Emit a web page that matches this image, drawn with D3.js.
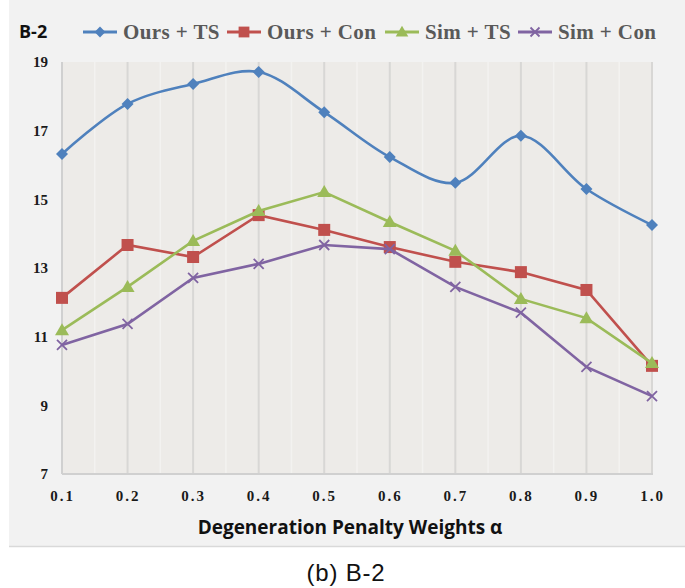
<!DOCTYPE html>
<html><head><meta charset="utf-8">
<script src="https://cdn.jsdelivr.net/npm/d3@7"></script>
<style>body{margin:0;background:#fff}svg{display:block}</style>
</head><body>
<svg id="c" width="685" height="588"></svg>
<script>
const alphas = [0.1,0.2,0.3,0.4,0.5,0.6,0.7,0.8,0.9,1.0];
const oursTS  = [16.32,17.78,18.36,18.71,17.54,16.23,15.48,16.85,15.30,14.25];
const oursCon = [12.13,13.67,13.32,14.54,14.11,13.61,13.18,12.88,12.36,10.15];
const simTS   = [11.19,12.45,13.79,14.66,15.21,14.34,13.50,12.10,11.54,10.23];
const simCon  = [10.76,11.37,12.71,13.12,13.67,13.55,12.45,11.70,10.12,9.27];
const yTicks = [7,9,11,13,15,17,19];
const seriesNames = ["Ours + TS","Ours + Con","Sim + TS","Sim + Con"];
const colors = ["#4f81bd","#c0504d","#9bbb59","#8064a2"];
const markers = ["diamond","square","triangle","cross"];
const smooth = [true,false,false,false];
const allSeries = [oursTS,oursCon,simTS,simCon];

const svg = d3.select("#c");
// panel
svg.append("rect").attr("x",9).attr("y",0).attr("width",676).attr("height",546).attr("fill","#f2f2f2");
svg.append("line").attr("x1",9).attr("x2",685).attr("y1",546.5).attr("y2",546.5).attr("stroke","#d9d9d9").attr("stroke-width",1.5);

const L=62,R=653,T=62,B=474;
const x = d3.scaleLinear().domain([0.1,1.0]).range([L,652]);
const y = d3.scaleLinear().domain([7,19]).range([B,T]);

svg.append("rect").attr("x",L).attr("y",T).attr("width",R-L).attr("height",B-T).attr("fill","#edebe8");
// minor gridlines
const minor = alphas.slice(0,-1).map(a=>a+0.05);
svg.append("g").selectAll("line").data(minor).join("line")
  .attr("x1",d=>x(d)).attr("x2",d=>x(d)).attr("y1",T).attr("y2",B)
  .attr("stroke","#f3f2f0").attr("stroke-width",1.5);
svg.append("g").selectAll("line").data(alphas.slice(1)).join("line")
  .attr("x1",d=>x(d)).attr("x2",d=>x(d)).attr("y1",T).attr("y2",B)
  .attr("stroke","#d8d7d5").attr("stroke-width",2);
// axes lines
svg.append("line").attr("x1",L).attr("x2",L).attr("y1",T).attr("y2",B).attr("stroke","#d0d0d0").attr("stroke-width",2);
svg.append("line").attr("x1",L).attr("x2",R).attr("y1",B).attr("y2",B).attr("stroke","#d0d0d0").attr("stroke-width",2);

// y axis labels
const yAxis = d3.axisLeft(y).tickValues(yTicks).tickSize(0).tickPadding(14).tickFormat(d3.format("d"));
const gy = svg.append("g").attr("transform",`translate(${L},0)`).call(yAxis);
gy.select(".domain").remove();
gy.selectAll("text").attr("font-family","'Liberation Serif','Times New Roman',serif").attr("font-weight","bold")
  .attr("font-size",15).attr("fill","#1a1a1a");

const xAxis = d3.axisBottom(x).tickValues(alphas).tickSize(0).tickPadding(16).tickFormat(d3.format(".1f"));
const gx = svg.append("g").attr("transform",`translate(0,${B})`).call(xAxis);
gx.select(".domain").remove();
gx.selectAll("text").attr("font-family","'Liberation Serif','Times New Roman',serif").attr("font-weight","bold")
  .attr("font-size",15).attr("fill","#1a1a1a").attr("letter-spacing","2px");

svg.append("text").attr("x",350).attr("y",534).attr("text-anchor","middle")
  .attr("font-family","'Open Sans',sans-serif").attr("font-weight","bold").attr("font-size",19).attr("fill","#111")
  .text("Degeneration Penalty Weights α");

svg.append("text").attr("x",346).attr("y",581).attr("text-anchor","middle")
  .attr("font-family","'Liberation Sans',Arial,sans-serif").attr("font-size",24).attr("letter-spacing","0.8px").attr("fill","#111")
  .text("(b) B-2");

function drawMarker(g, type, cx, cy, color, s){
  s = s||1;
  if(type==="diamond"){
    g.append("path").attr("d",`M${cx},${cy-6*s}L${cx+6*s},${cy}L${cx},${cy+6*s}L${cx-6*s},${cy}Z`).attr("fill",color);
  } else if(type==="square"){
    g.append("rect").attr("x",cx-6*s).attr("y",cy-6*s).attr("width",12*s).attr("height",12*s).attr("fill",color);
  } else if(type==="triangle"){
    g.append("path").attr("d",`M${cx},${cy-7*s}L${cx+7*s},${cy+5*s}L${cx-7*s},${cy+5*s}Z`).attr("fill",color);
  } else {
    g.append("path").attr("d",`M${cx-5*s},${cy-5*s}L${cx+5*s},${cy+5*s}M${cx-5*s},${cy+5*s}L${cx+5*s},${cy-5*s}`)
      .attr("stroke",color).attr("stroke-width",1.8).attr("fill","none");
  }
}

allSeries.forEach((vals,i)=>{
  const line = d3.line().x((d,j)=>x(alphas[j])).y(d=>y(d))
    .curve(smooth[i]? d3.curveCatmullRom.alpha(0.5) : d3.curveLinear);
  const g = svg.append("g");
  g.append("path").datum(vals).attr("d",line).attr("fill","none").attr("stroke",colors[i]).attr("stroke-width",2.6);
  vals.forEach((v,j)=>drawMarker(g,markers[i],x(alphas[j]),y(v),colors[i]));
});

// legend
svg.append("text").attr("x",19).attr("y",38).attr("font-family","'Open Sans',sans-serif").attr("font-weight","bold")
  .attr("font-size",18).attr("fill","#111").text("B-2");
const legX = [83,227,385,518];
seriesNames.forEach((n,i)=>{
  const g = svg.append("g");
  g.append("line").attr("x1",legX[i]).attr("x2",legX[i]+34).attr("y1",32).attr("y2",32).attr("stroke",colors[i]).attr("stroke-width",3);
  drawMarker(g,markers[i],legX[i]+17,32,colors[i],0.9);
  g.append("text").attr("x",legX[i]+40).attr("y",39).attr("font-family","'Liberation Serif','Times New Roman',serif")
    .attr("font-weight","bold").attr("font-size",21).attr("letter-spacing","0.4px").attr("fill","#595959").text(n);
});
</script>
</body></html>
